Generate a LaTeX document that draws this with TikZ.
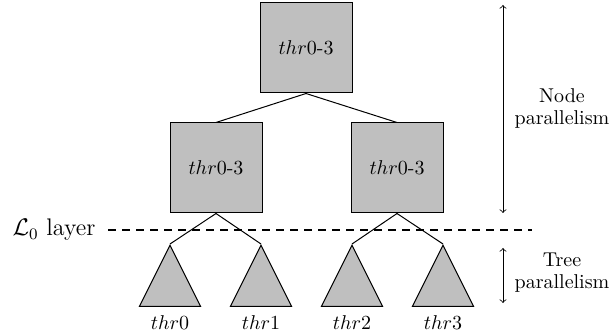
\documentclass[tikz,border=0pt]{standalone}
\usetikzlibrary{shapes.geometric}
\begin{document}
\begin{tikzpicture}[x=0.5pt,y=-0.5pt,
  box/.style={draw, fill=black!25, minimum width=46pt, minimum height=45pt, inner sep=0pt, line width=0.5pt},
  tri/.style={draw, fill=black!25, isosceles triangle, isosceles triangle stretches, shape border rotate=90, minimum width=30.5pt, minimum height=30.5pt, inner sep=0pt, anchor=apex, line width=0.5pt},
  link/.style={line width=0.5pt},
  layer/.style={line width=1pt, dash pattern=on 4pt off 3pt},
  span/.style={<->, line width=0.4pt},
  lbl/.style={align=center, inner sep=0pt}]
\useasboundingbox (0,0) rectangle (613,335);
% boxes
\node[box] (top) at (306,48) {$thr$0-3};
\node[box] (ml) at (216,168) {$thr$0-3};
\node[box] (mr) at (397,168) {$thr$0-3};
% triangles
\node[tri] (t0) at (170,244) {};
\node[tri] (t1) at (261,244) {};
\node[tri] (t2) at (352,244) {};
\node[tri] (t3) at (443,244) {};
% connectors
\draw[link] (top.south) -- (ml.north);
\draw[link] (top.south) -- (mr.north);
\draw[link] (ml.south) -- (t0.apex);
\draw[link] (ml.south) -- (t1.apex);
\draw[link] (mr.south) -- (t2.apex);
\draw[link] (mr.south) -- (t3.apex);
% thread labels
\node (l0) at (170,323) {$thr0$};
\node (l1) at (261,323) {$thr1$};
\node (l2) at (352,323) {$thr2$};
\node (l3) at (443,323) {$thr3$};
% layer line
\node[font=\large] (L0) at (54,230) {$\mathcal{L}_0$ layer};
\coordinate (dl) at (108,230);
\coordinate (dr) at (532,230);
\draw[layer] (dl) -- (dr);
% right annotations
\coordinate (na) at (503,5);
\coordinate (nb) at (503,213);
\draw[span] (na) -- (nb);
\coordinate (ta) at (503,248);
\coordinate (tb) at (503,303);
\draw[span] (ta) -- (tb);
\node[lbl] (np) at (562,109) {Node\\[-1pt]parallelism};
\node[lbl] (tp) at (562,273) {Tree\\[-1pt]parallelism};
\end{tikzpicture}
\end{document}
